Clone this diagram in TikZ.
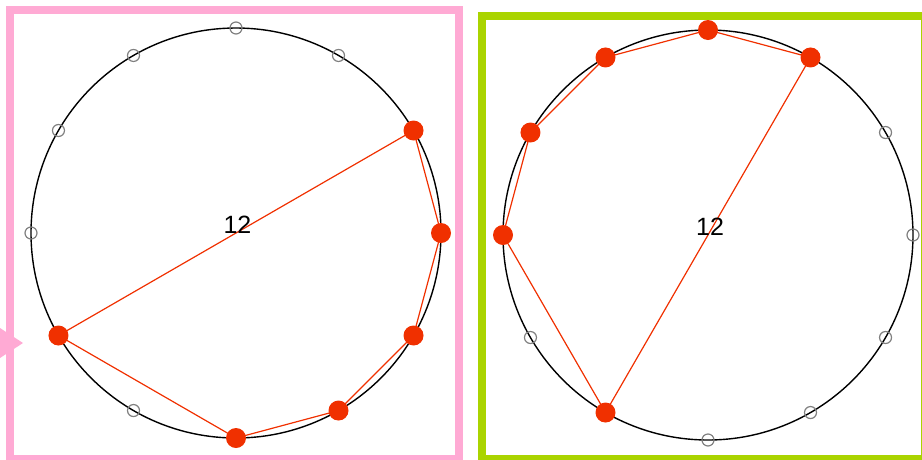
\documentclass[tikz,border=0pt]{standalone}
\usepackage{fontspec}
\setmainfont{Liberation Sans}
\usetikzlibrary{calc}
\definecolor{framepink}{HTML}{FFAAD4}
\definecolor{framegreen}{HTML}{AAD400}
\definecolor{dotred}{HTML}{F03000}
\begin{document}
\begin{tikzpicture}[x=1pt,y=-1pt,
  ring/.style={draw=black,line width=1.4pt},
  reddot/.style={circle,fill=dotred,inner sep=0pt,minimum size=20pt},
  hollow/.style={circle,draw=gray,line width=1.2pt,inner sep=0pt,minimum size=12pt},
  chord/.style={draw=dotred,line width=1.2pt},
  lbl/.style={font=\fontsize{25}{25}\selectfont,inner sep=0pt}]
\useasboundingbox (0,0) rectangle (922,459);
\begin{scope}
\clip (0,0) rectangle (922,459);
\draw[framepink,line width=8pt] (10,10) rectangle (459,459);
\draw[framegreen,line width=8pt] (482,16) rectangle (925,459);
\fill[framepink] (0,328) -- (23,343) -- (0,358) -- cycle;
\end{scope}
% left circle
\coordinate (L) at (236,233);
\draw[ring] (L) circle (205);
\foreach \a in {90,60,30,0,-30,-60,-90,-120,-150,180,150,120}
  \coordinate (L\a) at ($(L)+(-\a:205)$);
\draw[chord] (L30) -- (L0) -- (L-30) -- (L-60) -- (L-90) -- (L-150) -- cycle;
\foreach \a in {90,60,-120,180,150,120}
  \node[hollow] (hl\a) at (L\a) {};
\foreach \a in {30,0,-30,-60,-90,-150}
  \node[reddot] (rl\a) at (L\a) {};
\node[lbl] (lab1) at (237.5,225) {12};
% right circle
\coordinate (R) at (708,235);
\draw[ring] (R) circle (205);
\foreach \a in {90,60,30,0,-30,-60,-90,-120,-150,180,150,120}
  \coordinate (R\a) at ($(R)+(-\a:205)$);
\draw[chord] (R90) -- (R60) -- (R-120) -- (R180) -- (R150) -- (R120) -- cycle;
\foreach \a in {30,0,-30,-60,-90,-150}
  \node[hollow] (hr\a) at (R\a) {};
\foreach \a in {90,60,-120,180,150,120}
  \node[reddot] (rr\a) at (R\a) {};
\node[lbl] (lab2) at (710,227) {12};
\end{tikzpicture}
\end{document}
